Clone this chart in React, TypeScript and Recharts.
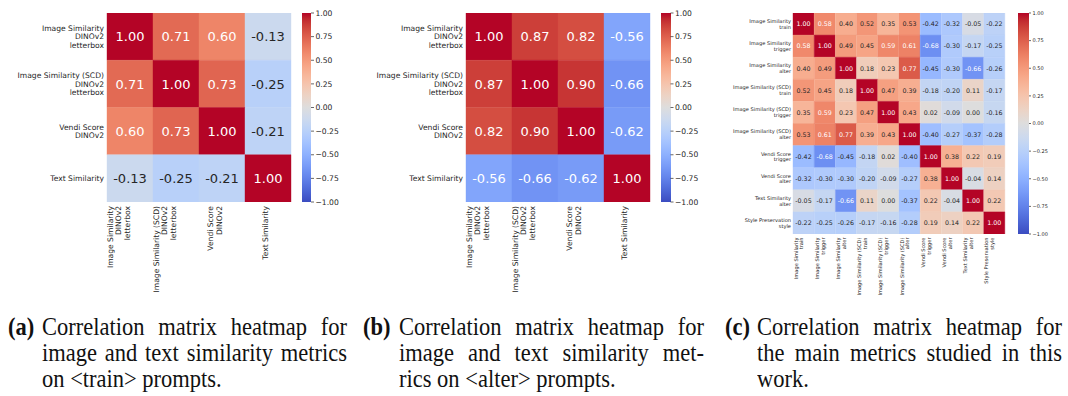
import React from 'react';
import { BarChart, Bar, Cell, LabelList, XAxis, YAxis } from 'recharts';

// Metric names (line breaks split the tick labels into rows)
const pairLabels = [
    'Image Similarity\nDINOv2\nletterbox',
    'Image Similarity (SCD)\nDINOv2\nletterbox',
    'Vendi Score\nDINOv2',
    'Text Similarity',
];

const trainCorr = [
    [1.0, 0.71, 0.6, -0.13],
    [0.71, 1.0, 0.73, -0.25],
    [0.6, 0.73, 1.0, -0.21],
    [-0.13, -0.25, -0.21, 1.0],
];

const alterCorr = [
    [1.0, 0.87, 0.82, -0.56],
    [0.87, 1.0, 0.9, -0.66],
    [0.82, 0.9, 1.0, -0.62],
    [-0.56, -0.66, -0.62, 1.0],
];

const mainLabels = [
    'Image Similarity\ntrain',
    'Image Similarity\ntrigger',
    'Image Similarity\nalter',
    'Image Similarity (SCD)\ntrain',
    'Image Similarity (SCD)\ntrigger',
    'Image Similarity (SCD)\nalter',
    'Vendi Score\ntrigger',
    'Vendi Score\nalter',
    'Text Similarity\nalter',
    'Style Preservation\nstyle',
];

const mainCorr = [
    [1.0, 0.58, 0.4, 0.52, 0.35, 0.53, -0.42, -0.32, -0.05, -0.22],
    [0.58, 1.0, 0.49, 0.45, 0.59, 0.61, -0.68, -0.3, -0.17, -0.25],
    [0.4, 0.49, 1.0, 0.18, 0.23, 0.77, -0.45, -0.3, -0.66, -0.26],
    [0.52, 0.45, 0.18, 1.0, 0.47, 0.39, -0.18, -0.2, 0.11, -0.17],
    [0.35, 0.59, 0.23, 0.47, 1.0, 0.43, 0.02, -0.09, 0.0, -0.16],
    [0.53, 0.61, 0.77, 0.39, 0.43, 1.0, -0.4, -0.27, -0.37, -0.28],
    [-0.42, -0.68, -0.45, -0.18, 0.02, -0.4, 1.0, 0.38, 0.22, 0.19],
    [-0.32, -0.3, -0.3, -0.2, -0.09, -0.27, 0.38, 1.0, -0.04, 0.14],
    [-0.05, -0.17, -0.66, 0.11, 0.0, -0.37, 0.22, -0.04, 1.0, 0.22],
    [-0.22, -0.25, -0.26, -0.17, -0.16, -0.28, 0.19, 0.14, 0.22, 1.0],
];

const colorbarTicks = [-1, -0.75, -0.5, -0.25, 0, 0.25, 0.5, 0.75, 1];

const captionA = ['Correlation matrix heatmap for', 'image and text similarity metrics', 'on <train> prompts.'];
const captionB = ['Correlation matrix heatmap for', 'image and text similarity met-', 'rics on <alter> prompts.'];
const captionC = ['Correlation matrix heatmap for', 'the main metrics studied in this', 'work.'];

const FONT = '"DejaVu Sans", sans-serif';
const INK = '#262626';

// coolwarm, 33 evenly spaced stops from blue (-1) to red (+1)
const COOLWARM = [
    [59, 76, 192], [68, 90, 204], [77, 104, 215], [87, 117, 225], [98, 130, 234],
    [108, 142, 241], [119, 154, 247], [130, 165, 251], [141, 176, 254], [152, 185, 255],
    [163, 194, 255], [174, 201, 253], [184, 208, 249], [194, 213, 244], [204, 217, 238],
    [213, 219, 230], [221, 221, 221], [229, 216, 209], [236, 211, 197], [241, 204, 185],
    [245, 196, 173], [247, 187, 160], [247, 177, 148], [247, 166, 135], [244, 154, 123],
    [241, 141, 111], [236, 127, 99], [229, 112, 88], [222, 96, 77], [213, 80, 66],
    [203, 62, 56], [192, 40, 47], [180, 4, 38],
];

const coolwarmRgb = (v: number) => {
    const t = Math.min(1, Math.max(0, (v + 1) / 2)) * (COOLWARM.length - 1);
    const i = Math.min(COOLWARM.length - 2, Math.floor(t));
    const f = t - i;
    return COOLWARM[i].map((c, k) => Math.round(c + (COOLWARM[i + 1][k] - c) * f));
};

const rgbStr = (rgb: number[]) => `rgb(${rgb[0]},${rgb[1]},${rgb[2]})`;

// same rule seaborn uses to pick annotation colour
const textColorFor = (rgb: number[]) => {
    const lin = rgb.map(c => {
        const s = c / 255;
        return s <= 0.03928 ? s / 12.92 : Math.pow((s + 0.055) / 1.055, 2.4);
    });
    const lum = 0.2126 * lin[0] + 0.7152 * lin[1] + 0.0722 * lin[2];
    return lum > 0.408 ? INK : '#ffffff';
};

const fmtBar = (v: number) => (v < 0 ? '\u2212' : '') + Math.abs(v).toFixed(2);

interface PanelLayout {
    left: number;
    width: number;
    height: number;
    plotLeft: number;   // room for the row labels
    plotBottom: number; // room for the rotated column labels
    top: number;
    right: number;
    labelSize: number;
    lineHeight: number;
    annotSize: number;
    xShift: number;
    xGap: number;
    yGap: number;
}

// Each column is a category; each row is one stacked unit-high segment,
// coloured per column with Cell. The reversed y axis puts row 0 on top.
const Heatmap: React.FC<{ labels: string[]; matrix: number[][]; layout: PanelLayout }> = ({ labels, matrix, layout }) => {
    const n = labels.length;
    const centers = labels.map((_, i) => i + 0.5);
    const { labelSize: fs, lineHeight: lh } = layout;

    const data = labels.map((_, j) => {
        const d: Record<string, number> = { col: j };
        matrix.forEach((row, i) => {
            d[`v${i}`] = row[j];
        });
        return d;
    });

    const renderXTick = (props: any) => {
        const { x, y, payload } = props;
        const lines = labels[Number(payload.value)].split('\n');
        const k = lines.length;
        return (
            <g transform={`translate(${x},${y})`}>
                <text transform="rotate(-90)" textAnchor="end" fontSize={fs} fill={INK} fontFamily={FONT}>
                    {lines.map((l, i) => (
                        <tspan key={i} x={0} y={layout.xShift + 0.35 * fs - (k - 1 - i) * lh}>{l}</tspan>
                    ))}
                </text>
            </g>
        );
    };

    const renderYTick = (props: any) => {
        const { x, y, payload } = props;
        const lines = labels[Math.floor(payload.value)].split('\n');
        const k = lines.length;
        return (
            <text textAnchor="end" fontSize={fs} fill={INK} fontFamily={FONT}>
                {lines.map((l, i) => (
                    <tspan key={i} x={x} y={y + (i - (k - 1) / 2) * lh + 0.35 * fs}>{l}</tspan>
                ))}
            </text>
        );
    };

    const renderAnnot = (props: any) => {
        const { x, y, width, height, value } = props;
        const v = Number(value);
        return (
            <text x={x + width / 2} y={y + height / 2 + 0.36 * layout.annotSize} textAnchor="middle"
                fontSize={layout.annotSize} fontFamily={FONT} fill={textColorFor(coolwarmRgb(v))}>
                {v.toFixed(2)}
            </text>
        );
    };

    return (
        <div style={{ position: 'absolute', left: layout.left, top: 0 }}>
            <BarChart width={layout.width} height={layout.height} data={data}
                margin={{ top: layout.top, right: layout.right, bottom: 0, left: 0 }}
                barCategoryGap={0} barGap={0}>
                <XAxis dataKey="col" type="category" interval={0}
                    height={layout.plotBottom} tickSize={0} tickMargin={layout.xGap} axisLine={false} tickLine={false} tick={renderXTick} />
                <YAxis type="number" domain={[0, n]} allowDataOverflow reversed ticks={centers} interval={0}
                    width={layout.plotLeft} tickSize={0} tickMargin={layout.yGap} axisLine={false} tickLine={false} tick={renderYTick} />
                {matrix.map((row, i) => (
                    <Bar key={`r-${i}`} dataKey={() => 1} stackId="rows" isAnimationActive={false}>
                        {row.map((v, j) => {
                            const c = rgbStr(coolwarmRgb(v));
                            return <Cell key={`c-${j}`} fill={c} stroke={c} strokeWidth={0.4} />;
                        })}
                        <LabelList dataKey={`v${i}`} content={renderAnnot} />
                    </Bar>
                ))}
            </BarChart>
        </div>
    );
};

interface BarLayout {
    id: string;
    left: number;
    width: number;
    height: number;
    top: number;
    bottom: number;
    barLeft: number;
    axisWidth: number;
    fontSize: number;
    tickLen: number;
}

const colorbarData = [{ name: 'scale', range: [-1, 1] }];

const Colorbar: React.FC<{ layout: BarLayout }> = ({ layout }) => (
    <div style={{ position: 'absolute', left: layout.left, top: 0 }}>
        <BarChart width={layout.width} height={layout.height} data={colorbarData}
            margin={{ top: layout.top, right: 0, bottom: layout.bottom, left: layout.barLeft }}
            barCategoryGap={0}>
            <defs>
                <linearGradient id={layout.id} x1="0" y1="1" x2="0" y2="0">
                    {COOLWARM.map((c, i) => (
                        <stop key={i} offset={i / (COOLWARM.length - 1)} stopColor={rgbStr(c)} />
                    ))}
                </linearGradient>
            </defs>
            <XAxis dataKey="name" hide />
            <YAxis type="number" orientation="right" domain={[-1, 1]} allowDataOverflow ticks={colorbarTicks} interval={0}
                width={layout.axisWidth} tickSize={layout.tickLen} tickMargin={1.5} axisLine={false}
                tickLine={{ stroke: INK, strokeWidth: 0.7 }}
                tick={{ fontSize: layout.fontSize, fill: INK, fontFamily: FONT }}
                tickFormatter={fmtBar} />
            <Bar dataKey="range" fill={`url(#${layout.id})`} isAnimationActive={false} />
        </BarChart>
    </div>
);

const SX = 0.9;
const CAP_SIZE = 25;
const CAP_LH = 26;
const CAP_FONT = '"Liberation Serif", "Times New Roman", serif';

const Caption: React.FC<{ tag: string; lines: string[]; tagLeft: number; textLeft: number; textWidth: number }> = ({ tag, lines, tagLeft, textLeft, textWidth }) => {
    const top = 314;
    const common: React.CSSProperties = {
        position: 'absolute',
        fontFamily: CAP_FONT,
        fontSize: CAP_SIZE,
        lineHeight: `${CAP_LH}px`,
        color: '#111',
        whiteSpace: 'nowrap',
        transformOrigin: 'left top',
        transform: `scaleX(${SX})`,
    };
    return (
        <>
            <div style={{ ...common, left: tagLeft, top, fontWeight: 'bold' }}>{tag}</div>
            {lines.map((l, i) => (
                <div key={i} style={{
                    ...common,
                    left: textLeft,
                    top: top + i * CAP_LH,
                    width: textWidth / SX,
                    textAlign: 'justify',
                    textAlignLast: i < lines.length - 1 ? 'justify' : 'left',
                }}>{l}</div>
            ))}
        </>
    );
};

const layoutA: PanelLayout = {
    left: 0, width: 300, height: 310, plotLeft: 107, plotBottom: 108, top: 13, right: 9,
    labelSize: 7.6, lineHeight: 8.3, annotSize: 13, xShift: -3, xGap: 4, yGap: 3,
};
const layoutB: PanelLayout = {
    left: 360, width: 300, height: 310, plotLeft: 106, plotBottom: 108, top: 13, right: 10,
    labelSize: 7.6, lineHeight: 8.3, annotSize: 13, xShift: -3, xGap: 4, yGap: 3,
};
const layoutC: PanelLayout = {
    left: 720, width: 295, height: 310, plotLeft: 73, plotBottom: 76, top: 13, right: 10,
    labelSize: 5.1, lineHeight: 5.8, annotSize: 6.3, xShift: -2, xGap: 3.5, yGap: 2,
};

const barA: BarLayout = { id: 'cw-a', left: 296, width: 50, height: 310, top: 13, bottom: 108, barLeft: 6, axisWidth: 35, fontSize: 7.6, tickLen: 3 };
const barB: BarLayout = { id: 'cw-b', left: 655, width: 50, height: 310, top: 13, bottom: 108, barLeft: 6, axisWidth: 34.5, fontSize: 7.6, tickLen: 3 };
const barC: BarLayout = { id: 'cw-c', left: 1012, width: 56, height: 310, top: 13, bottom: 76, barLeft: 6, axisWidth: 39, fontSize: 5, tickLen: 2 };

export default function App() {
    return (
        <div style={{ position: 'absolute', left: 0, top: 0, width: 1068, height: 396, background: '#fff', overflow: 'hidden' }}>
            <Heatmap labels={pairLabels} matrix={trainCorr} layout={layoutA} />
            <Colorbar layout={barA} />
            <Heatmap labels={pairLabels} matrix={alterCorr} layout={layoutB} />
            <Colorbar layout={barB} />
            <Heatmap labels={mainLabels} matrix={mainCorr} layout={layoutC} />
            <Colorbar layout={barC} />
            <Caption tag="(a)" lines={captionA} tagLeft={8} textLeft={42} textWidth={305} />
            <Caption tag="(b)" lines={captionB} tagLeft={363} textLeft={399} textWidth={305} />
            <Caption tag="(c)" lines={captionC} tagLeft={725} textLeft={757} textWidth={305} />
        </div>
    );
}
